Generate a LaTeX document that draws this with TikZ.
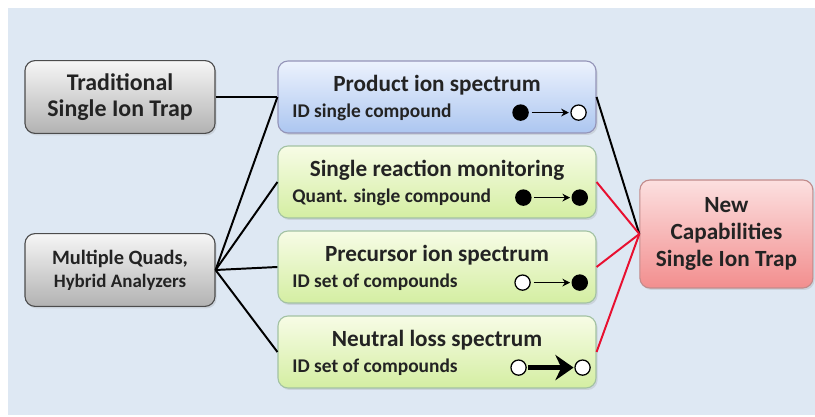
\documentclass[tikz,border=0pt]{standalone}
\usepackage{fontspec}
\setmainfont{Carlito}
\usetikzlibrary{arrows.meta,positioning,shadows}

\definecolor{bgBlue}{RGB}{222,232,243}
\definecolor{specBlueTop}{RGB}{236,242,253}
\definecolor{specBlueBot}{RGB}{172,198,240}
\definecolor{specGreenTop}{RGB}{247,252,230}
\definecolor{specGreenBot}{RGB}{212,238,162}
\definecolor{trapGrayTop}{RGB}{246,246,246}
\definecolor{trapGrayBot}{RGB}{178,178,178}
\definecolor{newPinkTop}{RGB}{252,224,224}
\definecolor{newPinkBot}{RGB}{242,142,142}
\definecolor{linkRed}{RGB}{232,16,48}
\definecolor{txtDark}{RGB}{35,35,35}

\begin{document}
\begin{tikzpicture}[
    box/.style={draw, rounded corners=0.25cm, line width=0.8pt,
                drop shadow={opacity=0.2, shadow xshift=0.04cm, shadow yshift=-0.05cm}},
    src/.style={box, draw=gray!60!black, top color=trapGrayTop, bottom color=trapGrayBot,
                minimum width=4.75cm, minimum height=1.82cm, align=center, text=txtDark},
    spec/.style={box, minimum width=7.95cm, minimum height=1.8cm},
    blu/.style={spec, draw=blue!20!gray!70, top color=specBlueTop, bottom color=specBlueBot},
    grn/.style={spec, draw=green!20!gray!60, top color=specGreenTop, bottom color=specGreenBot},
    ttl/.style={text=txtDark, font=\bfseries\fontsize{16.5}{19}\selectfont},
    sub/.style={anchor=west, text=txtDark, font=\bfseries\fontsize{13.8}{15}\selectfont},
    ion/.style={circle, draw, line width=0.9pt, minimum size=0.38cm, inner sep=0pt},
    frag/.style={-{Stealth[length=5.5pt,width=5.5pt]}, line width=1pt, shorten <=2pt, shorten >=1pt},
    loss/.style={-{Stealth[length=13pt 0 0,width=18pt 0 0]}, line width=3.4pt, shorten <=1pt, shorten >=0.5pt},
    link/.style={line width=1.4pt}
  ]
  \useasboundingbox (0,0) rectangle (20.375,10.425);
  \fill[bgBlue] (0.2,0.05) rectangle (20.375,10.225);

  % Instruments on the left
  \node[src, font=\bfseries\fontsize{17}{18.5}\selectfont] (trad) at (3.0,8.0)
    {Traditional\\Single Ion Trap};
  \node[src, font=\bfseries\fontsize{14.5}{18.5}\selectfont] (quad) at (3.0,3.675)
    {Multiple Quads,\\[-2pt]{\fontsize{13.5}{15}\selectfont Hybrid Analyzers}};

  % Scan modes
  \node[blu] (prod) at (10.925,8.0) {};
  \node[grn] (srm) at (10.925,5.875) {};
  \node[grn] (prec) at (10.925,3.75) {};
  \node[grn] (neut) at (10.925,1.625) {};

  \node[ttl] at ([yshift=0.3cm]prod.center) {Product ion spectrum};
  \node[ttl] at ([yshift=0.3cm]srm.center) {Single reaction monitoring};
  \node[ttl] at ([yshift=0.3cm]prec.center) {Precursor ion spectrum};
  \node[ttl] at ([yshift=0.3cm]neut.center) {Neutral loss spectrum};

  \node[sub] (prodS) at ([xshift=0.25cm,yshift=-0.39cm]prod.west) {ID single compound};
  \node[sub] (srmS) at ([xshift=0.25cm,yshift=-0.39cm]srm.west) {Quant. single compound};
  \node[sub] (precS) at ([xshift=0.25cm,yshift=-0.39cm]prec.west) {ID set of compounds};
  \node[sub] (neutS) at ([xshift=0.25cm,yshift=-0.39cm]neut.west) {ID set of compounds};

  % Precursor -> fragment symbols
  \node[ion, fill=black] (prodA) at ([xshift=-1.9cm,yshift=-0.39cm]prod.east) {};
  \node[ion, fill=white] (prodB) at ([xshift=-0.45cm,yshift=-0.39cm]prod.east) {};
  \draw[frag] (prodA) -- (prodB);
  \node[ion, fill=black] (srmA) at ([xshift=-1.83cm,yshift=-0.39cm]srm.east) {};
  \node[ion, fill=black] (srmB) at ([xshift=-0.42cm,yshift=-0.39cm]srm.east) {};
  \draw[frag] (srmA) -- (srmB);
  \node[ion, fill=white] (precA) at ([xshift=-1.85cm,yshift=-0.39cm]prec.east) {};
  \node[ion, fill=black] (precB) at ([xshift=-0.42cm,yshift=-0.39cm]prec.east) {};
  \draw[frag] (precA) -- (precB);
  \node[ion, fill=white] (neutA) at ([xshift=-1.95cm,yshift=-0.39cm]neut.east) {};
  \node[ion, fill=white] (neutB) at ([xshift=-0.35cm,yshift=-0.39cm]neut.east) {};
  \draw[loss] (neutA) -- (neutB);

  % Target
  \node[box, draw=red!30!gray!70, top color=newPinkTop, bottom color=newPinkBot,
        minimum width=4.325cm, minimum height=2.7cm, align=center, text=txtDark,
        font=\bfseries\fontsize{16.5}{19.5}\selectfont] (new) at (18.16,4.575)
        {New\\Capabilities\\Single Ion Trap};

  % Links
  \draw[link] (trad.east) -- (prod.west);
  \foreach \m in {prod,srm,prec,neut}
    \draw[link] (quad.east) -- (\m.west);
  \draw[link] (prod.east) -- (new.west);
  \foreach \m in {srm,prec,neut}
    \draw[link, linkRed] (\m.east) -- (new.west);
\end{tikzpicture}
\end{document}
